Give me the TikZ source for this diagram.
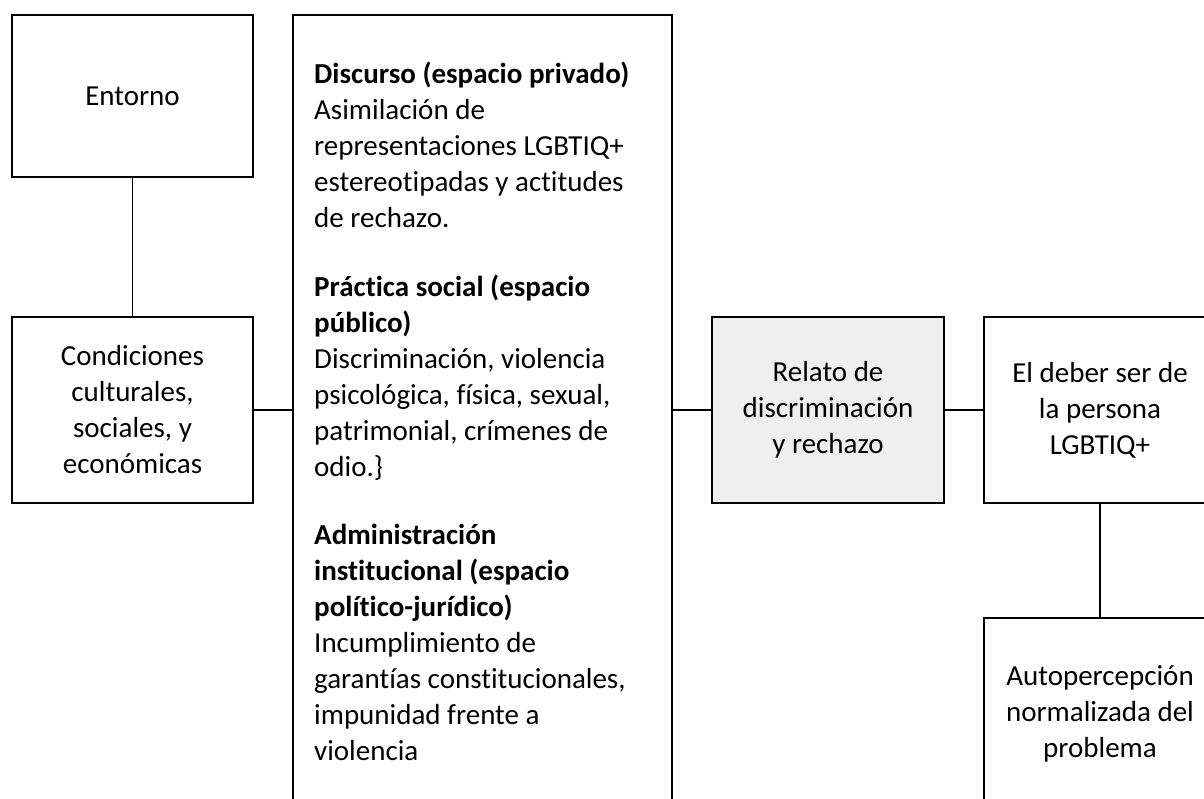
\documentclass[tikz,border=0pt]{standalone}
\usepackage{fontspec}
\setmainfont{Carlito}[Ligatures={NoCommon,NoRare,NoContextual}]
\definecolor{boxgray}{HTML}{EFEFEF}
\begin{document}
\begin{tikzpicture}[x=1pt,y=-1pt,
  every node/.style={font=\fontsize{29}{36}\selectfont},
  box/.style={draw=black, line width=1.3pt, inner sep=0pt, align=center},
  conn/.style={draw=black, line width=1.3pt}]
\clip (0,0) rectangle (1204,799);
\fill[white] (0,0) rectangle (1204,799);
\node[box, minimum width=241pt, minimum height=162pt] (ent) at (132.5,96) {Entorno};
\node[box, minimum width=241pt, minimum height=186pt] (cond) at (132.5,410) {Condiciones\\culturales,\\sociales, y\\económicas};
\node[box, minimum width=379pt, minimum height=795pt] (mid) at (482.5,412.5) {};
\node[anchor=north west, inner sep=0pt, align=left] (midtext) at (314,62) {\textbf{Discurso (espacio privado)}\\Asimilación de\\representaciones LGBTIQ+\\estereotipadas y actitudes\\de rechazo.\\[33pt]\textbf{Práctica social (espacio}\\\textbf{público)}\\Discriminación, violencia\\psicológica, física, sexual,\\patrimonial, crímenes de\\odio.\}\\[32pt]\textbf{Administración}\\\textbf{institucional (espacio}\\\textbf{político-jurídico)}\\Incumplimiento de\\garantías constitucionales,\\impunidad frente a\\violencia};
\node[box, fill=boxgray, minimum width=232pt, minimum height=186pt] (rel) at (828,410) {Relato de\\discriminación\\y rechazo};
\node[box, minimum width=232pt, minimum height=186pt] (deb) at (1100,410) {El deber ser de\\la persona\\LGBTIQ+};
\node[box, minimum width=232pt, minimum height=192pt] (aut) at (1100,714) {Autopercepción\\normalizada del\\problema};
\draw[conn] (ent) -- (cond);
\draw[conn] (cond.east) -- (cond.east -| mid.west);
\draw[conn] (mid.east |- rel.west) -- (rel.west);
\draw[conn] (rel) -- (deb);
\draw[conn] (deb) -- (aut);
\end{tikzpicture}
\end{document}
